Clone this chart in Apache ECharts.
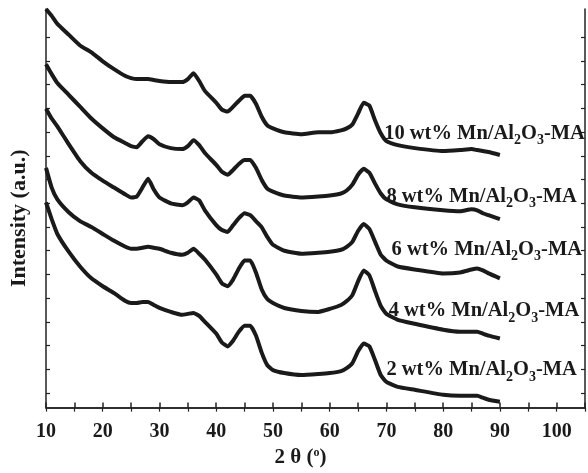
<!DOCTYPE html>
<html><head><meta charset="utf-8">
<script src="https://cdn.jsdelivr.net/npm/echarts@6/dist/echarts.min.js"></script>
<style>html,body{margin:0;padding:0;background:#fff}#c{width:588px;height:473px}</style>
</head><body><div id="c"></div>
<script>
// 2-theta grid (degrees)
const theta = [10,11,12,14,16,18,20,22,24,25,26,27,28,29,30,32,34,35,36,37,38,40,41,42,43,44,45,46,47,48,49,50,52,55,58,60,62,63,64,65,66,67,68,69,70,72,75,80,83,85,86,87,88,90];
// Intensity (a.u., offset stacked)
const mn10 = [404,397,389,378,367,360,351,343,336,334,333,333,333,332,331,330,330,333,339,331,321,309,302,300,305,311,316,316,308,295,286,283,279,277,279,279,281,283,287,298,309,306,291,278,270,266,263,260,261,262,261,260,259,256];
const mn8  = [348,338,329,317,305,293,283,274,268,265,264,270,275,272,267,263,262,265,271,266,258,246,239,236,241,247,251,251,243,231,222,219,215,213,214,215,217,220,226,236,242,238,227,217,211,206,203,200,199,201,200,197,195,191];
const mn6  = [303,293,285,267,250,238,230,223,216,213,214,223,232,221,213,207,205,208,213,210,200,185,180,178,185,192,197,195,189,183,173,165,159,156,157,158,160,163,168,179,186,181,168,155,149,143,140,136,137,140,141,139,136,131];
const mn4  = [243,223,211,198,189,183,176,169,163,161,161,162,163,162,161,157,155,157,161,156,150,135,126,123,130,141,149,149,137,120,110,106,101,98,97,100,104,108,114,128,139,134,118,103,95,89,85,79,77,77,77,75,73,70];
const mn2  = [208,191,176,158,143,131,123,116,108,106,106,107,107,104,101,97,94,95,96,93,87,75,66,62,68,77,83,83,73,56,43,38,35,33,34,35,37,40,45,57,65,62,48,33,26,21,18,13,12,12,12,10,8,6];
const loadings = ['10','8','6','4','2'];
const labelTheta = [69.6, 70.0, 70.9, 70.4, 70.0];
const labelValue = [278, 214, 160, 98, 38];
const yTicks = [14.7,38.8,62.8,86.9,110.9,135,159,183.1,207.1,231.2,255.2,279.3,303.3,327.4,351.4,375.5];

const FONT = '"Liberation Serif","Times New Roman",serif';
const INK = '#1a1a1a';
const curves = [mn10, mn8, mn6, mn4, mn2];

const chart = echarts.init(document.getElementById('c'), null, {renderer:'canvas'});
const axisLine = {show:true, lineStyle:{color:'#222', width:1.5}};
const series = curves.map((arr, i) => ({
  type:'line', xAxisIndex:0, yAxisIndex:0,
  data: theta.map((t, j) => [t, arr[j]]),
  showSymbol:false, smooth:0.15,
  lineStyle:{color:INK, width:4},
  silent:true, animation:false,
  markPoint:{
    symbol:'circle', symbolSize:0, silent:true, animation:false,
    data:[{coord:[labelTheta[i], labelValue[i]]}],
    label:{
      show:true, position:'right', distance:0,
      formatter:'{a|' + loadings[i] + ' wt% Mn/Al}{s|2}{a|O}{s|3}{a|-MA}',
      rich:{
        a:{fontFamily:FONT, fontWeight:'bold', fontSize:20.5, color:INK},
        s:{fontFamily:FONT, fontWeight:'bold', fontSize:14, color:INK, padding:[14,0,0,0]}
      }
    }
  }
}));

chart.setOption({
  animation:false,
  backgroundColor:'#fff',
  grid:{left:43, right:2, top:9, bottom:60},
  xAxis:[{
    type:'value', min:10, max:105, interval:5, position:'bottom',
    axisLine, splitLine:{show:false},
    axisTick:{show:true, inside:true, length:5, lineStyle:{color:'#222', width:1.5}},
    axisLabel:{margin:14, fontFamily:FONT, fontWeight:'bold', fontSize:20, color:INK,
      formatter:v => (v % 10 === 0 ? String(v) : '')},
    name:'{a|2 θ (}{p|o}{a|)}', nameLocation:'middle', nameGap:34,
    nameTextStyle:{padding:[0,30,0,0], rich:{
      a:{fontFamily:FONT, fontWeight:'bold', fontSize:21, color:INK},
      p:{fontFamily:FONT, fontWeight:'bold', fontSize:12, color:INK, padding:[0,0,10,0]}
    }}
  },{
    type:'value', min:10, max:105, interval:5, position:'top',
    axisLine, splitLine:{show:false},
    axisTick:{show:true, inside:true, length:4, lineStyle:{color:'#222', width:1.2}},
    axisLabel:{show:false}
  }],
  yAxis:[{
    type:'value', min:0, max:404, position:'left',
    axisLine, splitLine:{show:false},
    axisTick:{show:true, inside:true, length:4, customValues:yTicks, lineStyle:{color:'#222', width:1.2}},
    axisLabel:{show:false},
    name:'Intensity (a.u.)', nameLocation:'middle', nameGap:16,
    nameTextStyle:{fontFamily:FONT, fontWeight:'bold', fontSize:22, color:INK, padding:[0,20,0,0]}
  },{
    type:'value', min:0, max:404, position:'right',
    axisLine, splitLine:{show:false},
    axisTick:{show:true, inside:true, length:4, customValues:yTicks, lineStyle:{color:'#222', width:1.2}},
    axisLabel:{show:false}
  }],
  series
});
</script></body></html>
